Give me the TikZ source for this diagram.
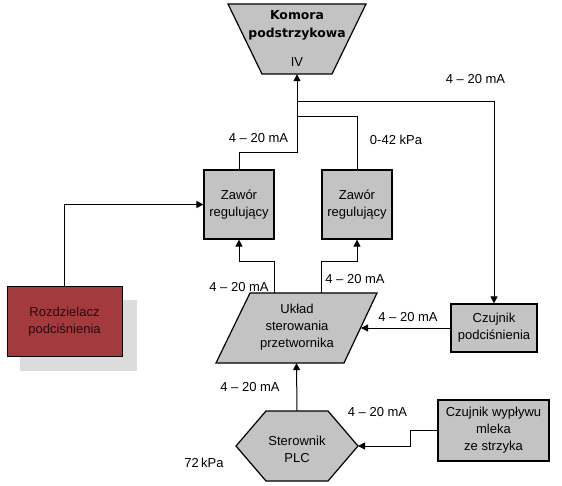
\documentclass[tikz,border=0pt]{standalone}
\usepackage{fontspec}
\setmainfont{Liberation Sans}
\newfontfamily\dvs{DejaVu Sans}
\usetikzlibrary{arrows.meta}
\definecolor{boxgray}{HTML}{C3C3C3}
\definecolor{redbox}{HTML}{A33A3E}
\definecolor{shadowgray}{HTML}{DCDCDC}
\definecolor{darktext}{HTML}{2A0A0A}
\begin{document}
\begin{tikzpicture}[x=1pt,y=-1pt,
  txt/.style={font=\fontsize{13}{17}\selectfont, inner sep=0pt, align=center},
  box/.style={txt, draw, line width=1.2pt, fill=boxgray},
  ghost/.style={inner sep=0pt, draw=none},
  lbl/.style={txt},
  conn/.style={line width=1pt, -{Triangle[length=7pt,width=7pt]}},
  wire/.style={line width=1pt}]
\useasboundingbox (0,0) rectangle (562,486);

% Komora podstrzykowa (trapezoid)
\node[ghost, minimum width=138, minimum height=70] (komora) at (297,39) {};
\draw[line width=1.2pt, fill=boxgray] (228,4) -- (366,4) -- (332,74) -- (262,74) -- cycle;
\node[txt, font=\dvs\bfseries\fontsize{12.4}{18}\selectfont] (komoraT) at (297,25) {Komora\\podstrzykowa};
\node[txt] (iv) at (297,62) {IV};

% Zawory
\node[box, minimum width=70, minimum height=69] (z1) at (239,204.5) {Zawór\\regulujący};
\node[box, minimum width=70, minimum height=69] (z2) at (357,204.5) {Zawór\\regulujący};

% Rozdzielacz
\fill[shadowgray] (20,300) rectangle (137,371);
\node[txt, draw, line width=1pt, fill=redbox, text=darktext, minimum width=115, minimum height=69] (rozd) at (64.5,321.5) {Rozdzielacz\\podciśnienia};

% Uklad sterowania (parallelogram)
\node[ghost, minimum width=161, minimum height=70] (uk) at (296.5,328) {};
\draw[line width=1.2pt, fill=boxgray] (250,293) -- (377,293) -- (344,363) -- (216,363) -- cycle;
\node[txt] (ukT) at (297,327.5) {Układ\\sterowania\\przetwornika};
\coordinate (ukE) at (361,328);

% Czujnik podcisnienia
\node[box, minimum width=86, minimum height=48] (czp) at (494,328) {Czujnik\\podciśnienia};

% Sterownik PLC (hexagon)
\node[ghost, minimum width=122, minimum height=70] (plc) at (297,446) {};
\draw[line width=1.2pt, fill=boxgray] (266,411) -- (328,411) -- (358,446) -- (328,481) -- (266,481) -- (236,446) -- cycle;
\node[txt] (plcT) at (297,449) {Sterownik\\PLC};
\coordinate (plcE) at (358,446);

% Czujnik wyplywu
\node[box, minimum width=111, minimum height=61] (czw) at (493.5,430.5) {Czujnik wypływu\\mleka\\ze strzyka};

% junctions
\coordinate (j1) at (297,102);
\coordinate (j2) at (297,117);

% connectors
\draw[conn] (z1.north) -- ++(0,-17) -| (komora.south);
\draw[wire] (z2.north) |- (j2);
\draw[conn] (j1) -| (czp.north);
\draw[conn] (rozd.north) |- (z1.west);
\draw[conn] ([xshift=-22.5pt]uk.north) -- ++(0,-31) -| (z1.south);
\draw[conn] ([xshift=24.5pt]uk.north) -- ++(0,-31) -| (z2.south);
\draw[conn] (czp.west) -- (ukE);
\draw[conn] (plc.north) -- (uk.south);
\draw[conn] (czw.west) -- ++(-27,0) |- (plcE);

% labels
\node[lbl] (l1) at (475.5,79) {4 – 20 mA};
\node[lbl] (l2) at (258.5,138) {4 – 20 mA};
\node[lbl] (l3) at (396,140) {0-42 kPa};
\node[lbl] (l4) at (239,287) {4 – 20 mA};
\node[lbl] (l5) at (355,279) {4 – 20 mA};
\node[lbl] (l6) at (408,317) {4 – 20 mA};
\node[lbl] (l7) at (250,387) {4 – 20 mA};
\node[lbl] (l8) at (377.5,412) {4 – 20 mA};
\node[lbl] (l9) at (204,463) {72\,kPa};
\end{tikzpicture}
\end{document}
